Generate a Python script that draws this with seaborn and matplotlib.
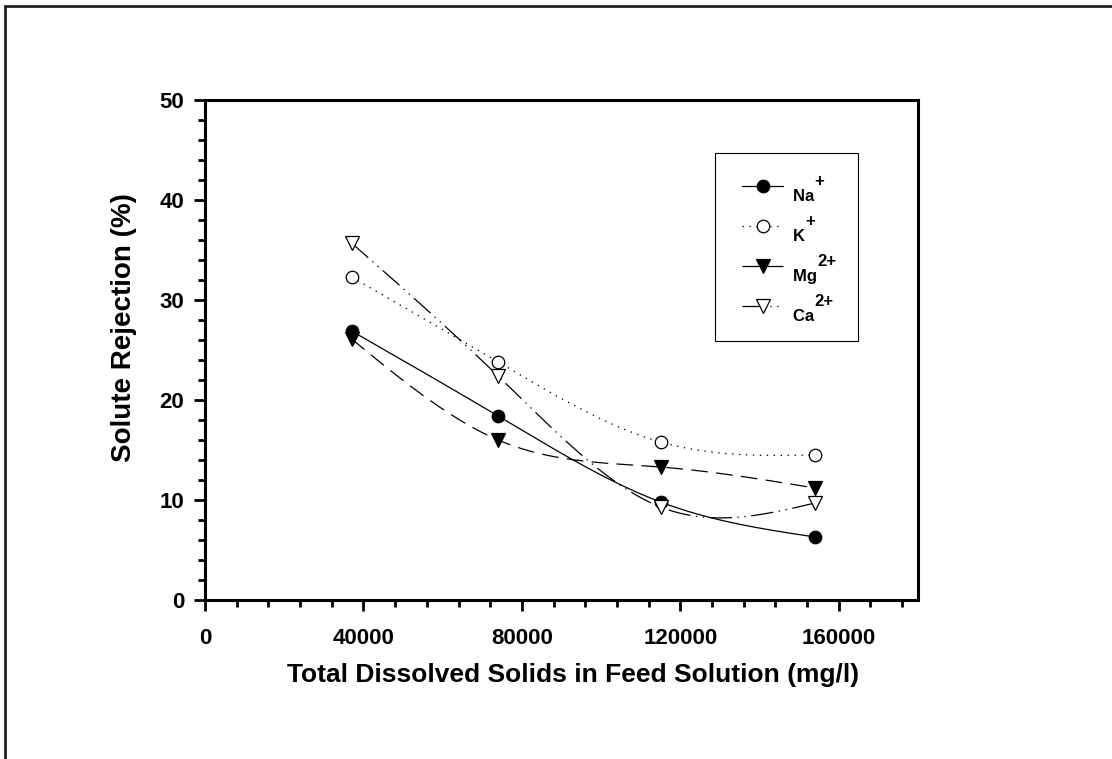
import numpy as np
import pandas as pd
import matplotlib
matplotlib.use('Agg')
import matplotlib.pyplot as plt
from matplotlib.lines import Line2D
from matplotlib.font_manager import FontProperties
import seaborn as sns

# Data
tds = [37000, 74000, 115000, 154000]
na = [26.9, 18.4, 9.8, 6.3]
k = [32.3, 23.8, 15.8, 14.5]
mg = [26.1, 16.0, 13.3, 11.2]
ca = [35.7, 22.4, 9.3, 9.7]
ions = ['Na', 'K', 'Mg', 'Ca']
charges = ['+', '+', '2+', '2+']

x_ticks = [0, 40000, 80000, 120000, 160000]
y_ticks = [0, 10, 20, 30, 40, 50]


def natural_spline(x, y, n=300):
    # natural cubic spline through the points, used only to draw the curve
    x = np.asarray(x, float)
    y = np.asarray(y, float)
    m = len(x)
    h = np.diff(x)
    A = np.zeros((m, m))
    b = np.zeros(m)
    A[0, 0] = A[-1, -1] = 1
    for i in range(1, m - 1):
        A[i, i - 1] = h[i - 1]
        A[i, i] = 2 * (h[i - 1] + h[i])
        A[i, i + 1] = h[i]
        b[i] = 6 * ((y[i + 1] - y[i]) / h[i] - (y[i] - y[i - 1]) / h[i - 1])
    M = np.linalg.solve(A, b)
    xs = np.linspace(x[0], x[-1], n)
    idx = np.clip(np.searchsorted(x, xs) - 1, 0, m - 2)
    x0, x1 = x[idx], x[idx + 1]
    hh = x1 - x0
    ys = (M[idx] * (x1 - xs) ** 3 / (6 * hh) + M[idx + 1] * (xs - x0) ** 3 / (6 * hh)
          + (y[idx] / hh - M[idx] * hh / 6) * (x1 - xs)
          + (y[idx + 1] / hh - M[idx + 1] * hh / 6) * (xs - x0))
    return xs, ys


sns.set_style('white')
plt.rcParams['font.family'] = ['Liberation Sans', 'DejaVu Sans']
plt.rcParams['font.weight'] = 'bold'
plt.rcParams['text.color'] = 'black'
plt.rcParams['axes.labelcolor'] = 'black'
plt.rcParams['xtick.color'] = 'black'
plt.rcParams['ytick.color'] = 'black'
plt.rcParams['lines.scale_dashes'] = False

fig = plt.figure(figsize=(11.12, 7.59), dpi=100)
ax = fig.add_axes([205 / 1112, 159 / 759, 713 / 1112, 500 / 759])

styles = [
    dict(ls='-', marker='o', mfc='black'),
    dict(ls=(0, (1, 4)), marker='o', mfc='white'),
    dict(ls=(0, (12, 6)), marker='v', mfc='black'),
    dict(ls=(0, (16, 4, 1, 4, 1, 4)), marker='v', mfc='white'),
]
series = [na, k, mg, ca]

handles = []
for vals, st, ion in zip(series, styles, ions):
    xs, ys = natural_spline(tds, vals)
    sns.lineplot(x=xs, y=ys, ax=ax, color='black', lw=0.9, linestyle=st['ls'],
                 sort=False, estimator=None)
    ms = 9 if st['marker'] == 'o' else 10
    ax.plot(tds, vals, ls='none', marker=st['marker'], ms=ms, mfc=st['mfc'],
            mec='black', mew=0.9, zorder=5)
    # trailing spaces keep room in the box for the raised charge
    handles.append(Line2D([], [], color='black', lw=0.9, linestyle=st['ls'],
                          marker=st['marker'], ms=ms, mfc=st['mfc'], mec='black',
                          mew=0.9, label=ion + '   '))

ax.set_xlim(0, 180000)
ax.set_ylim(0, 50)
ax.set_xticks(x_ticks)
ax.set_xticklabels([str(v) for v in x_ticks])
ax.set_yticks(y_ticks)
ax.set_xticks(np.arange(0, 180001, 8000), minor=True)
ax.set_yticks(np.arange(0, 51, 2), minor=True)
ax.tick_params(axis='x', which='major', pad=12)
ax.tick_params(axis='y', which='major', pad=7)
ax.tick_params(axis='both', which='major', direction='out', length=8, width=2,
               labelsize=16, top=False, right=False, bottom=True, left=True)
ax.tick_params(axis='both', which='minor', direction='out', length=5, width=2,
               top=False, right=False, bottom=True, left=True)
for lab in ax.get_xticklabels() + ax.get_yticklabels():
    lab.set_fontweight('bold')
for sp in ax.spines.values():
    sp.set_visible(True)
    sp.set_linewidth(2.2)
    sp.set_color('black')

ax.set_xlabel('Total Dissolved Solids in Feed Solution (mg/l)', fontsize=19,
              fontweight='bold', labelpad=10)
ax.xaxis.label.set_x(0.516)
ax.set_ylabel('Solute Rejection (%)', fontsize=20, fontweight='bold')
ax.yaxis.set_label_coords(-0.095, 0.545)

leg_size = 12
leg = ax.legend(handles=handles, loc='upper left', bbox_to_anchor=(510 / 713, 447 / 500),
                frameon=True, fancybox=False, edgecolor='black', fontsize=leg_size,
                framealpha=1, handlelength=2.5, labelspacing=1.5, borderpad=1.6,
                handletextpad=0.6, borderaxespad=0)
leg.get_frame().set_linewidth(0.8)

fig.canvas.draw()
renderer = fig.canvas.get_renderer()
fp = FontProperties(family='Liberation Sans', weight='bold', size=leg_size)
for t, ch, ion in zip(leg.get_texts(), charges, ions):
    t.set_fontweight('bold')
    t.set_y(-9)
    w, _, _ = renderer.get_text_width_height_descent(ion, fp, ismath=False)
    # full-size raised charge, as in the original legend
    ax.annotate(ch, xy=(0, 1), xycoords=t, xytext=(w * 72 / fig.dpi, 5),
                textcoords='offset points', fontsize=leg_size, fontweight='bold',
                ha='left', va='center', zorder=10)

# outer frame of the page
fig.add_artist(Line2D([5 / 1112, 1.02], [1 - 6 / 759, 1 - 6 / 759],
                      transform=fig.transFigure, color='#222222', lw=2))
fig.add_artist(Line2D([5 / 1112, 5 / 1112], [1 - 6 / 759, -0.02],
                      transform=fig.transFigure, color='#222222', lw=2))

fig.savefig('out.png', dpi=100)
